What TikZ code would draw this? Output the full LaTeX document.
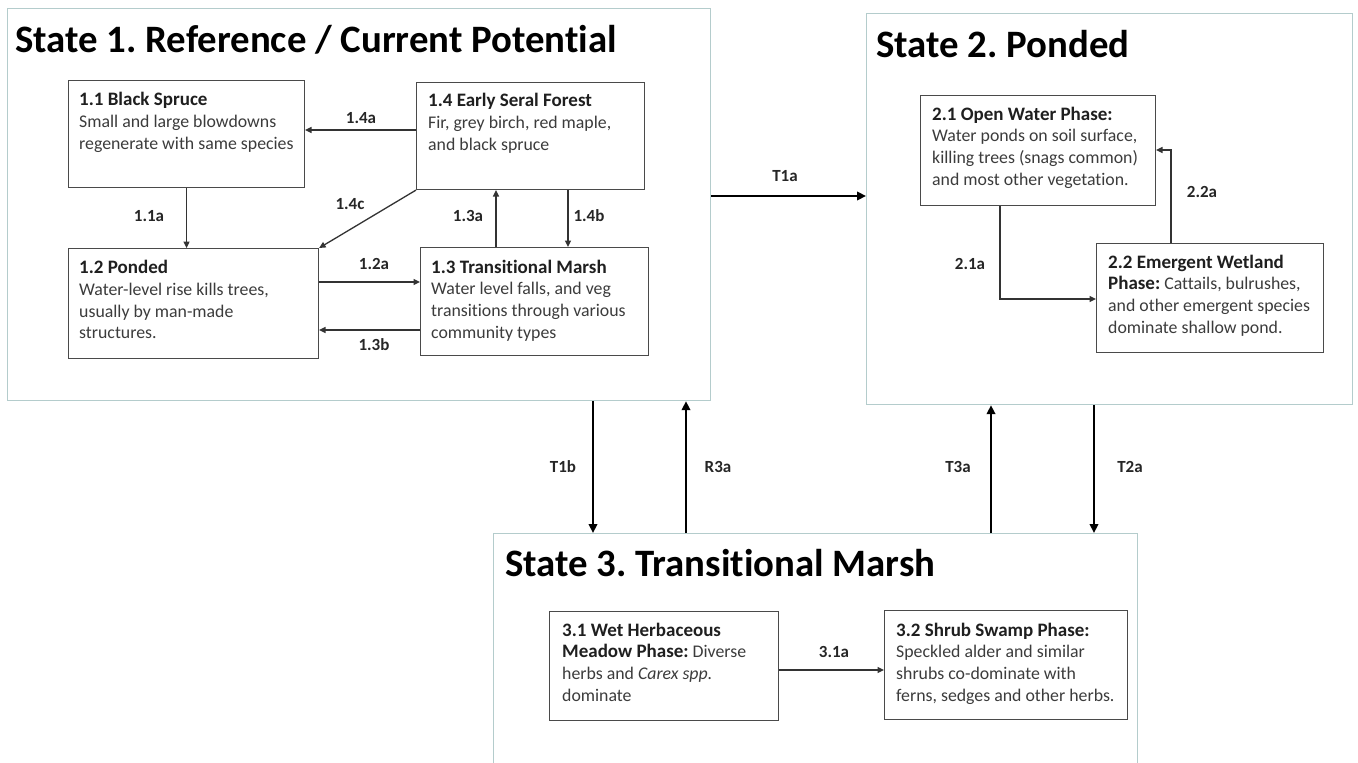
\documentclass[tikz,border=0pt]{standalone}
\usepackage{fontspec}
\setmainfont{Carlito}[Ligatures=NoCommon]
\frenchspacing
\usetikzlibrary{arrows.meta}
\definecolor{statec}{HTML}{B4CCCC}
\definecolor{bodyc}{HTML}{3C3C3C}
\definecolor{boxc}{HTML}{4A4A4A}
\tikzset{
  statebox/.style={draw=statec, line width=1.2pt, fill=none, anchor=north west, inner sep=0pt},
  phasebox/.style={draw=boxc, line width=1.1pt, anchor=north west, inner sep=0pt},
  ptext/.style={anchor=north west, inner sep=0pt, align=left, text=bodyc, font=\fontsize{17.8}{21.8}\selectfont},
  ttext/.style={anchor=west, inner sep=0pt, font=\fontsize{38.8}{42}\bfseries\selectfont, text=black},
  lab/.style={inner sep=0pt, font=\fontsize{17}{18}\bfseries\selectfont, text=black!85},
  thin/.style={draw=black!80, line width=1.3pt, -{Triangle[length=6.5pt,width=6pt]}},
  thick/.style={draw=black, line width=2.7pt, -{Triangle[length=9pt,width=8.5pt]}}
}
\newcommand{\hb}[1]{{\fontsize{19}{21.8}\bfseries\color{black!88}#1}}
\begin{document}
\begin{tikzpicture}[x=1pt,y=-1pt]
\useasboundingbox (0,0) rectangle (1358,763);
\fill[white] (0,0) rectangle (1358,763);
% state boxes
\node[statebox, minimum width=703pt, minimum height=392pt] (s1) at (7,8) {};
\node[statebox, minimum width=486pt, minimum height=391pt] (s2) at (866,13) {};
\begin{scope}
\clip (0,0) rectangle (1358,763);
\node[statebox, minimum width=644pt, minimum height=260pt] (s3) at (493,533) {};
\end{scope}
\node[ttext] (t1) at (15,40) {State 1. Reference / Current Potential};
\node[ttext] (t2) at (876,44) {State 2. Ponded};
\node[ttext] (t3) at (505,563) {State 3. Transitional Marsh};
% phase boxes
\node[phasebox, minimum width=236pt, minimum height=107pt] (b11) at (68,80) {};
\node[phasebox, minimum width=228pt, minimum height=107pt] (b14) at (416,82) {};
\node[phasebox, minimum width=250pt, minimum height=110pt] (b12) at (68,248) {};
\node[phasebox, minimum width=228pt, minimum height=108pt] (b13) at (420,247) {};
\node[phasebox, minimum width=235pt, minimum height=110pt] (b21) at (920,95) {};
\node[phasebox, minimum width=227pt, minimum height=109pt] (b22) at (1096,243) {};
\node[phasebox, minimum width=229pt, minimum height=109pt] (b31) at (549,611) {};
\node[phasebox, minimum width=243pt, minimum height=109pt] (b32) at (884,610) {};
% phase texts
\node[ptext] (x11) at (79,92) {\hb{1.1 Black Spruce}\\Small and large blowdowns\\regenerate with same species};
\node[ptext] (x14) at (428,93) {\hb{1.4 Early Seral Forest}\\Fir, grey birch, red maple,\\and black spruce};
\node[ptext] (x12) at (79,260) {\hb{1.2 Ponded}\\Water-level rise kills trees,\\usually by man-made\\structures.};
\node[ptext] (x13) at (431,259.5) {\hb{1.3 Transitional Marsh}\\Water level falls, and veg\\transitions through various\\community types};
\node[ptext] (x21) at (932,106.5) {\hb{2.1 Open Water Phase:}\\Water ponds on soil surface,\\killing trees (snags common)\\and most other vegetation.};
\node[ptext] (x22) at (1108,254.5) {\hb{2.2 Emergent Wetland}\\\hb{Phase:} Cattails, bulrushes,\\and other emergent species\\dominate shallow pond.};
\node[ptext] (x31) at (562,622.5) {\hb{3.1 Wet Herbaceous}\\\hb{Meadow Phase:} Diverse\\herbs and \textit{Carex spp.}\\dominate};
\node[ptext] (x32) at (896,622.5) {\hb{3.2 Shrub Swamp Phase:}\\Speckled alder and similar\\shrubs co-dominate with\\ferns, sedges and other herbs.};
% corner coordinates for 1.4c
\coordinate (c14) at (b14.south west);
\coordinate (c12) at (b12.north east);
% arrows state 1
\draw[thin] (b14.west |- 0,130) -- (b11.east |- 0,130);
\draw[thin] (b11.south) -- (b11.south |- b12.north);
\draw[thin] (c14) -- (c12);
\draw[thin] (b13.north -| 496,0) -- (b14.south -| 496,0);
\draw[thin] (b14.south -| 568,0) -- (b13.north -| 568,0);
\draw[thin] (b12.east |- 0,282) -- (b13.west |- 0,282);
\draw[thin] (b13.west |- 0,330) -- (b12.east |- 0,330);
\node[lab] (l14a) at (361,118) {1.4a};
\node[lab] (l11a) at (149,216) {1.1a};
\node[lab] (l14c) at (350,204) {1.4c};
\node[lab] (l13a) at (468,216) {1.3a};
\node[lab] (l14b) at (589,216) {1.4b};
\node[lab] (l12a) at (374,264) {1.2a};
\node[lab] (l13b) at (374,345) {1.3b};
% state 2 arrows
\draw[thin] (b21.south -| 1000,0) |- (b22.west |- 0,299);
\draw[thin] (b22.north -| 1171,0) |- (b21.east |- 0,150);
\node[lab] (l21a) at (970,264) {2.1a};
\node[lab] (l22a) at (1202,192) {2.2a};
% state 3 arrows
\draw[thin] (b31.east |- 0,670) -- (b32.west |- 0,670);
\node[lab] (l31a) at (834,652) {3.1a};
% transitions
\draw[thick] (s1.east |- 0,196) -- (s2.west |- 0,196);
\draw[thick] (s1.south -| 593,0) -- (s3.north -| 593,0);
\draw[thick] (s3.north -| 686,0) -- (s1.south -| 686,0);
\draw[thick] (s3.north -| 991,0) -- (s2.south -| 991,0);
\draw[thick] (s2.south -| 1094,0) -- (s3.north -| 1094,0);
\node[lab] (lt1a) at (785,176) {T1a};
\node[lab] (lt1b) at (563,467) {T1b};
\node[lab] (lr3a) at (718,467) {R3a};
\node[lab] (lt3a) at (958,467) {T3a};
\node[lab] (lt2a) at (1130,467) {T2a};
\end{tikzpicture}
\end{document}
